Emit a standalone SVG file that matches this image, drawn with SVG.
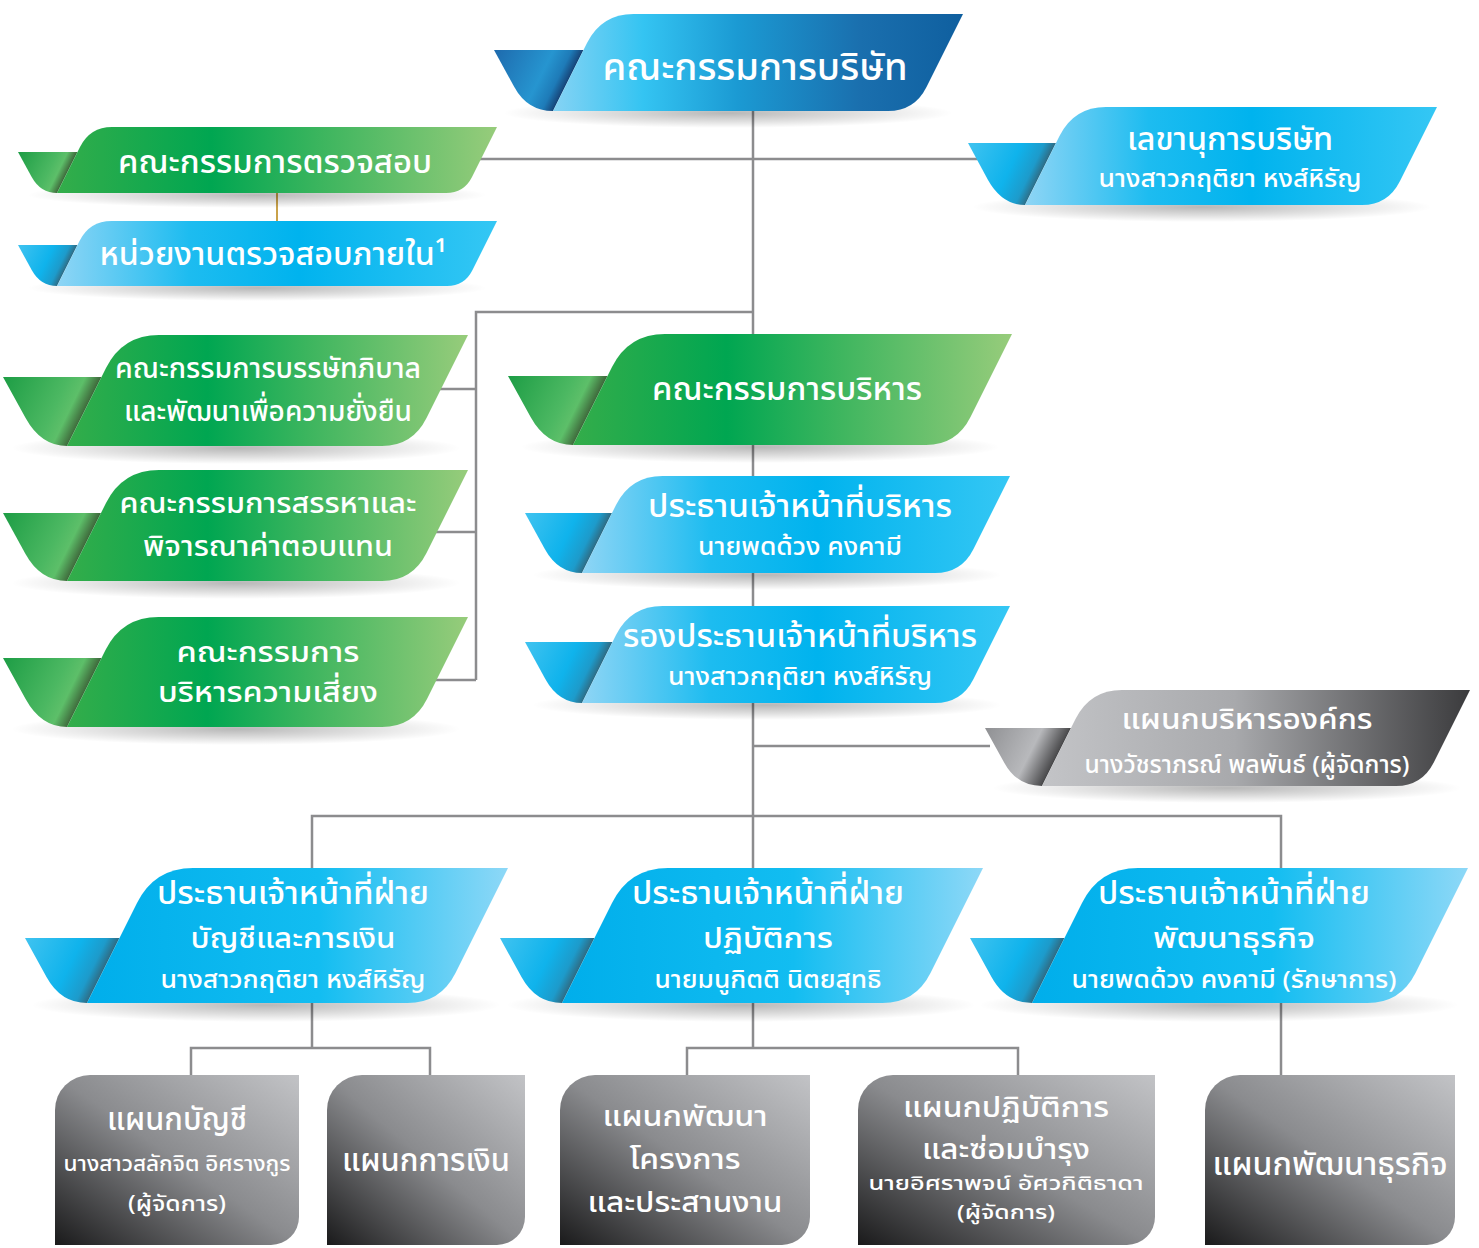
<svg xmlns="http://www.w3.org/2000/svg" width="1479" height="1248" viewBox="0 0 1479 1248">
<style>
.t{font-family:"Noto Sans Thai","Noto Sans","DejaVu Sans",sans-serif;fill:#ffffff;text-anchor:middle;font-weight:500}
.s38{font-size:38px}.s34{font-size:32px}.s30{font-size:29px}.s31{font-size:29px}.s26{font-size:24px}.s24{font-size:21px}
.c{fill:none;stroke:#8c8c8e;stroke-width:2.5}
.tan{fill:none;stroke:#c9a24a;stroke-width:2}
</style>
<defs>
<linearGradient id="gCyan" x1="0" y1="0" x2="1" y2="0"><stop offset="0" stop-color="#8fd5f5"/><stop offset=".3" stop-color="#1dbcf0"/><stop offset=".55" stop-color="#00b3ee"/><stop offset="1" stop-color="#35c7f4"/></linearGradient>
<linearGradient id="gCyanR" x1="0" y1="0" x2="1" y2="0"><stop offset="0" stop-color="#00aeeb"/><stop offset=".55" stop-color="#12bdf1"/><stop offset="1" stop-color="#8ed8f7"/></linearGradient>
<linearGradient id="gBoard" x1="0" y1="0" x2="1" y2="0"><stop offset="0" stop-color="#86d3f4"/><stop offset=".22" stop-color="#34c4f2"/><stop offset=".45" stop-color="#1b9ad3"/><stop offset=".75" stop-color="#1a6fae"/><stop offset="1" stop-color="#0f5f9f"/></linearGradient>
<linearGradient id="gGreen" x1="0" y1="0" x2="1" y2="0"><stop offset="0" stop-color="#34ad4a"/><stop offset=".35" stop-color="#00a651"/><stop offset=".6" stop-color="#3cb55e"/><stop offset="1" stop-color="#97cc7b"/></linearGradient>
<linearGradient id="gGray" x1="0" y1="0" x2="1" y2="0"><stop offset="0" stop-color="#c3c4c7"/><stop offset=".45" stop-color="#a8a9ac"/><stop offset="1" stop-color="#3b3b3d"/></linearGradient>
<linearGradient id="fCyan" x1="0" y1="0" x2="1" y2=".34"><stop offset="0" stop-color="#40c3f0"/><stop offset=".55" stop-color="#0fb3ec"/><stop offset=".78" stop-color="#1d9bcb"/><stop offset=".89" stop-color="#2e6d86"/></linearGradient>
<linearGradient id="fBoard" x1="0" y1="0" x2="1" y2=".34"><stop offset="0" stop-color="#1e6aad"/><stop offset=".6" stop-color="#2695d0"/><stop offset=".78" stop-color="#1e7bb8"/><stop offset=".89" stop-color="#17467a"/></linearGradient>
<linearGradient id="fGreen" x1="0" y1="0" x2="1" y2=".34"><stop offset="0" stop-color="#1d9d45"/><stop offset=".6" stop-color="#4cb862"/><stop offset=".75" stop-color="#5dbf69"/><stop offset=".89" stop-color="#3f6a3c"/></linearGradient>
<linearGradient id="fGray" x1="0" y1="0" x2="1" y2=".34"><stop offset="0" stop-color="#8f9093"/><stop offset=".6" stop-color="#b8b9bc"/><stop offset=".89" stop-color="#4a4a4c"/></linearGradient>
<linearGradient id="gBox" x1="0" y1="1" x2="1" y2="0"><stop offset="0" stop-color="#1a1a1b"/><stop offset=".5" stop-color="#8a8b8e"/><stop offset="1" stop-color="#c2c3c6"/></linearGradient>
<radialGradient id="rSh"><stop offset="0" stop-color="#000" stop-opacity=".28"/><stop offset=".55" stop-color="#000" stop-opacity=".13"/><stop offset="1" stop-color="#000" stop-opacity="0"/></radialGradient>
</defs>
<rect width="1479" height="1248" fill="#ffffff"/>

<g id="connectors">
<path class="c" d="M753,111 V1048"/>
<path class="c" d="M480,159 H978"/>
<path class="c" d="M753,312 H476 V680"/>
<path class="c" d="M430,389 H476 M430,532 H476 M430,680 H476"/>
<path class="c" d="M753,746 H990"/>
<path class="c" d="M312,868 V816 H1281 V1075"/>
<path class="c" d="M312,1003 V1048 M191,1075 V1048 H430 V1075"/>
<path class="c" d="M687,1075 V1048 H1018 V1075"/>
<path class="tan" d="M277,193 V221"/>
</g>

<g id="board">
<ellipse cx="728" cy="113" rx="225" ry="15" fill="url(#rSh)"/>
<path fill="url(#fBoard)" d="M494,50 L583.5,50 L553,111 Q527.5,111 514.3,87 Z"/>
<path fill="url(#gBoard)" d="M553,111 L587,43 Q601.5,14 633.5,14 L963,14 L926.5,87 Q914.5,111 888,111 Z"/>
<text class="t s38" x="755" y="80" textLength="305" lengthAdjust="spacingAndGlyphs">คณะกรรมการบริษัท</text>
</g>

<g id="audit-committee">
<ellipse cx="257" cy="195" rx="230" ry="13" fill="url(#rSh)"/>
<path fill="url(#fGreen)" d="M18,152 L77.5,152 L57,193 Q40.5,193 31.7,177 Z"/>
<path fill="url(#gGreen)" d="M57,193 L80,147 Q90,127 112,127 L497,127 L472,177 Q464,193 446,193 Z"/>
<text class="t s34" x="275" y="173" textLength="314" lengthAdjust="spacingAndGlyphs">คณะกรรมการตรวจสอบ</text>
</g>

<g id="internal-audit">
<ellipse cx="257" cy="288" rx="230" ry="13" fill="url(#rSh)"/>
<path fill="url(#fCyan)" d="M18,245 L77.5,245 L57,286 Q40.5,286 31.7,270 Z"/>
<path fill="url(#gCyan)" d="M57,286 L79.5,241 Q89.5,221 111.5,221 L497,221 L472.5,270 Q464.5,286 447,286 Z"/>
<text class="t s34" x="273" y="265" textLength="347" lengthAdjust="spacingAndGlyphs">หน่วยงานตรวจสอบภายใน¹</text>
</g>

<g id="secretary">
<ellipse cx="1202" cy="207" rx="230" ry="15" fill="url(#rSh)"/>
<path fill="url(#fCyan)" d="M968,143 L1056,143 L1025,205 Q1002,205 988,180 Z"/>
<path fill="url(#gCyan)" d="M1025,205 L1059.5,136 Q1074,107 1106,107 L1437,107 L1400,181 Q1388,205 1362,205 Z"/>
<text class="t"><tspan class="s34" x="1230" y="150" textLength="206" lengthAdjust="spacingAndGlyphs">เลขานุการบริษัท</tspan><tspan class="s26" x="1230" y="187" textLength="263" lengthAdjust="spacingAndGlyphs">นางสาวกฤติยา หงส์หิรัญ</tspan></text>
</g>

<g id="governance-committee">
<ellipse cx="236" cy="448" rx="225" ry="16" fill="url(#rSh)"/>
<path fill="url(#fGreen)" d="M3,377 L101.5,377 L67,446 Q41,446 25.6,418 Z"/>
<path fill="url(#gGreen)" d="M67,446 L106,368 Q122.5,335 159,335 L468,335 L426.5,418 Q412.5,446 382,446 Z"/>
<text class="t s31"><tspan x="268" y="378" textLength="306" lengthAdjust="spacingAndGlyphs">คณะกรรมการบรรษัทภิบาล</tspan><tspan x="268" y="421" textLength="288" lengthAdjust="spacingAndGlyphs">และพัฒนาเพื่อความยั่งยืน</tspan></text>
</g>

<g id="nomination-committee">
<ellipse cx="236" cy="583" rx="225" ry="16" fill="url(#rSh)"/>
<path fill="url(#fGreen)" d="M3,513 L101,513 L67,581 Q40.4,581 25.5,554 Z"/>
<path fill="url(#gGreen)" d="M67,581 L106,503 Q122.5,470 159,470 L468,470 L426.5,553 Q412.5,581 382,581 Z"/>
<text class="t s31"><tspan x="268" y="513" textLength="297" lengthAdjust="spacingAndGlyphs">คณะกรรมการสรรหาและ</tspan><tspan x="268" y="556" textLength="250" lengthAdjust="spacingAndGlyphs">พิจารณาค่าตอบแทน</tspan></text>
</g>

<g id="risk-committee">
<ellipse cx="236" cy="729" rx="225" ry="16" fill="url(#rSh)"/>
<path fill="url(#fGreen)" d="M3,658 L101.5,658 L67,727 Q41,727 25.6,699 Z"/>
<path fill="url(#gGreen)" d="M67,727 L105.5,650 Q122,617 158.5,617 L468,617 L427,699 Q413,727 382,727 Z"/>
<text class="t s31"><tspan x="268" y="662" textLength="183" lengthAdjust="spacingAndGlyphs">คณะกรรมการ</tspan><tspan x="268" y="702" textLength="220" lengthAdjust="spacingAndGlyphs">บริหารความเสี่ยง</tspan></text>
</g>

<g id="executive-committee">
<ellipse cx="760" cy="447" rx="240" ry="16" fill="url(#rSh)"/>
<path fill="url(#fGreen)" d="M508,376 L607.5,376 L573,445 Q546,445 530.6,417 Z"/>
<path fill="url(#gGreen)" d="M573,445 L612,367 Q628.5,334 665,334 L1012,334 L970.5,417 Q956.5,445 926,445 Z"/>
<text class="t s34" x="787" y="400" textLength="270" lengthAdjust="spacingAndGlyphs">คณะกรรมการบริหาร</text>
</g>

<g id="ceo">
<ellipse cx="767" cy="575" rx="235" ry="15" fill="url(#rSh)"/>
<path fill="url(#fCyan)" d="M525,513 L612,513 L582,573 Q558,573 544.8,549 Z"/>
<path fill="url(#gCyan)" d="M582,573 L616,505 Q630.5,476 662.5,476 L1010,476 L973.5,549 Q961.5,573 935,573 Z"/>
<text class="t"><tspan class="s34" x="800" y="517" textLength="304" lengthAdjust="spacingAndGlyphs">ประธานเจ้าหน้าที่บริหาร</tspan><tspan class="s26" x="800" y="555" textLength="204" lengthAdjust="spacingAndGlyphs">นายพดด้วง คงคามี</tspan></text>
</g>

<g id="deputy-ceo">
<ellipse cx="767" cy="705" rx="235" ry="15" fill="url(#rSh)"/>
<path fill="url(#fCyan)" d="M525,642 L612.5,642 L582,703 Q558.5,703 545.3,679 Z"/>
<path fill="url(#gCyan)" d="M582,703 L616,635 Q630.5,606 662.5,606 L1010,606 L973.5,679 Q961.5,703 935,703 Z"/>
<text class="t"><tspan class="s34" x="800" y="647" textLength="354" lengthAdjust="spacingAndGlyphs">รองประธานเจ้าหน้าที่บริหาร</tspan><tspan class="s26" x="800" y="685" textLength="264" lengthAdjust="spacingAndGlyphs">นางสาวกฤติยา หงส์หิรัญ</tspan></text>
</g>

<g id="org-management">
<ellipse cx="1227" cy="788" rx="235" ry="15" fill="url(#rSh)"/>
<path fill="url(#fGray)" d="M985,728 L1071,728 L1042,786 Q1017,786 1004.4,763 Z"/>
<path fill="url(#gGray)" d="M1042,786 L1075.5,719 Q1090,690 1122,690 L1470,690 L1434,762 Q1422,786 1396,786 Z"/>
<text class="t"><tspan class="s31" x="1247" y="729" textLength="251" lengthAdjust="spacingAndGlyphs">แผนกบริหารองค์กร</tspan><tspan class="s26" x="1247" y="773" textLength="325" lengthAdjust="spacingAndGlyphs">นางวัชราภรณ์  พลพันธ์ (ผู้จัดการ)</tspan></text>
</g>

<g id="cfo">
<ellipse cx="266" cy="1005" rx="235" ry="17" fill="url(#rSh)"/>
<path fill="url(#fCyan)" d="M25,938 L119.5,938 L87,1003 Q60.75,1003 46.5,977 Z"/>
<path fill="url(#gCyanR)" d="M87,1003 L137,903 Q154.5,868 193,868 L508,868 L455.5,973 Q440.5,1003 407.5,1003 Z"/>
<text class="t"><tspan class="s34" x="293" y="904" textLength="272" lengthAdjust="spacingAndGlyphs">ประธานเจ้าหน้าที่ฝ่าย</tspan><tspan class="s30" x="293" y="948" textLength="205" lengthAdjust="spacingAndGlyphs">บัญชีและการเงิน</tspan><tspan class="s26" x="293" y="988" textLength="265" lengthAdjust="spacingAndGlyphs">นางสาวกฤติยา หงส์หิรัญ</tspan></text>
</g>

<g id="coo">
<ellipse cx="741" cy="1005" rx="235" ry="17" fill="url(#rSh)"/>
<path fill="url(#fCyan)" d="M500,938 L594.5,938 L562,1003 Q535.75,1003 521.5,977 Z"/>
<path fill="url(#gCyanR)" d="M562,1003 L612,903 Q629.5,868 668,868 L983,868 L930.5,973 Q915.5,1003 882.5,1003 Z"/>
<text class="t"><tspan class="s34" x="768" y="904" textLength="272" lengthAdjust="spacingAndGlyphs">ประธานเจ้าหน้าที่ฝ่าย</tspan><tspan class="s30" x="768" y="948" textLength="130" lengthAdjust="spacingAndGlyphs">ปฏิบัติการ</tspan><tspan class="s26" x="768" y="988" textLength="227" lengthAdjust="spacingAndGlyphs">นายมนูกิตติ นิตยสุทธิ</tspan></text>
</g>

<g id="cbdo">
<ellipse cx="1219" cy="1005" rx="240" ry="17" fill="url(#rSh)"/>
<path fill="url(#fCyan)" d="M970,938 L1064.5,938 L1032,1003 Q1005.75,1003 991.5,977 Z"/>
<path fill="url(#gCyanR)" d="M1032,1003 L1082,903 Q1099.5,868 1138,868 L1468,868 L1415.5,973 Q1400.5,1003 1367.5,1003 Z"/>
<text class="t"><tspan class="s34" x="1234" y="904" textLength="272" lengthAdjust="spacingAndGlyphs">ประธานเจ้าหน้าที่ฝ่าย</tspan><tspan class="s30" x="1234" y="948" textLength="162" lengthAdjust="spacingAndGlyphs">พัฒนาธุรกิจ</tspan><tspan class="s26" x="1234" y="988" textLength="325" lengthAdjust="spacingAndGlyphs">นายพดด้วง คงคามี (รักษาการ)</tspan></text>
</g>

<g id="accounting-dept">
<path fill="url(#gBox)" d="M55,1245 V1110 A35,35 0 0 1 90,1075 H299 V1217 A28,28 0 0 1 271,1245 Z"/>
<text class="t"><tspan class="s34" x="177" y="1130" textLength="140" lengthAdjust="spacingAndGlyphs">แผนกบัญชี</tspan><tspan class="s24" x="177" y="1171" textLength="227" lengthAdjust="spacingAndGlyphs">นางสาวสลักจิต อิศรางกูร</tspan><tspan class="s24" x="177" y="1211" textLength="98" lengthAdjust="spacingAndGlyphs">(ผู้จัดการ)</tspan></text>
</g>

<g id="finance-dept">
<path fill="url(#gBox)" d="M327,1245 V1110 A35,35 0 0 1 362,1075 H525 V1217 A28,28 0 0 1 497,1245 Z"/>
<text class="t s34" x="426" y="1171" textLength="168" lengthAdjust="spacingAndGlyphs">แผนกการเงิน</text>
</g>

<g id="project-dept">
<path fill="url(#gBox)" d="M560,1245 V1110 A35,35 0 0 1 595,1075 H810 V1217 A28,28 0 0 1 782,1245 Z"/>
<text class="t s30"><tspan x="685" y="1126" textLength="165" lengthAdjust="spacingAndGlyphs">แผนกพัฒนา</tspan><tspan x="685" y="1169" textLength="111" lengthAdjust="spacingAndGlyphs">โครงการ</tspan><tspan x="685" y="1212" textLength="195" lengthAdjust="spacingAndGlyphs">และประสานงาน</tspan></text>
</g>

<g id="operations-dept">
<path fill="url(#gBox)" d="M858,1245 V1110 A35,35 0 0 1 893,1075 H1155 V1217 A28,28 0 0 1 1127,1245 Z"/>
<text class="t"><tspan x="1006" y="1117" style="font-size:28px" textLength="206" lengthAdjust="spacingAndGlyphs">แผนกปฏิบัติการ</tspan><tspan x="1006" y="1159" style="font-size:28px" textLength="168" lengthAdjust="spacingAndGlyphs">และซ่อมบำรุง</tspan><tspan x="1006" y="1190" style="font-size:19px" textLength="275" lengthAdjust="spacingAndGlyphs">นายอิศราพจน์ อัศวกิติธาดา</tspan><tspan x="1006" y="1219" style="font-size:19px" textLength="98" lengthAdjust="spacingAndGlyphs">(ผู้จัดการ)</tspan></text>
</g>

<g id="bizdev-dept">
<path fill="url(#gBox)" d="M1205,1245 V1110 A35,35 0 0 1 1240,1075 H1455 V1217 A28,28 0 0 1 1427,1245 Z"/>
<text class="t s34" x="1330" y="1175" textLength="235" lengthAdjust="spacingAndGlyphs">แผนกพัฒนาธุรกิจ</text>
</g>
</svg>
